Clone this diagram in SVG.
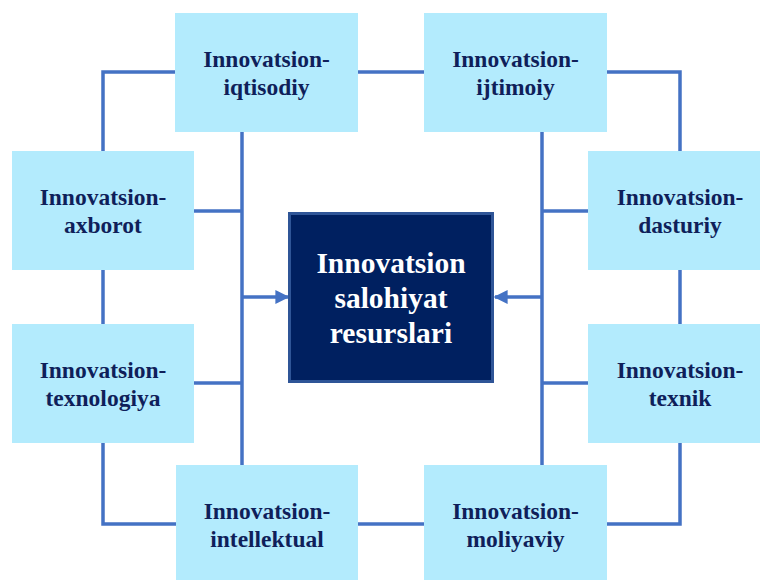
<svg xmlns="http://www.w3.org/2000/svg" width="760" height="580" viewBox="0 0 760 580">
<style>
.box{fill:#B3EBFD;}
.lbl{font-family:"Liberation Serif","Times New Roman",serif;font-weight:bold;font-size:23.5px;fill:#0F1F5A;text-anchor:middle;}
.ctr{font-family:"Liberation Serif","Times New Roman",serif;font-weight:bold;font-size:29.5px;fill:#FFFFFF;text-anchor:middle;}
.ln{fill:none;stroke:#4472C4;stroke-width:3.5;}
</style>
<defs>
<marker id="ah" viewBox="0 0 10 10" refX="9" refY="5" markerWidth="4" markerHeight="4" orient="auto" markerUnits="strokeWidth">
<path d="M0,0 L10,5 L0,10 z" fill="#4472C4"/>
</marker>
</defs>
<rect width="760" height="580" fill="#FFFFFF"/>
<g id="connectors">
<polyline class="ln" points="103,151 103,72 175,72"/>
<line class="ln" x1="358" y1="72" x2="424" y2="72"/>
<polyline class="ln" points="607,72 680,72 680,151"/>
<line class="ln" x1="103" y1="270" x2="103" y2="324"/>
<line class="ln" x1="680" y1="270" x2="680" y2="324"/>
<polyline class="ln" points="103,443 103,524 176,524"/>
<line class="ln" x1="358" y1="524" x2="424" y2="524"/>
<polyline class="ln" points="607,524 680,524 680,443"/>
<line class="ln" x1="242" y1="132" x2="242" y2="465"/>
<line class="ln" x1="542" y1="132" x2="542" y2="465"/>
<line class="ln" x1="194" y1="211" x2="242" y2="211"/>
<line class="ln" x1="194" y1="383" x2="242" y2="383"/>
<line class="ln" x1="542" y1="211" x2="588" y2="211"/>
<line class="ln" x1="542" y1="383" x2="588" y2="383"/>
<line class="ln" x1="242" y1="297" x2="288" y2="297" marker-end="url(#ah)"/>
<line class="ln" x1="542" y1="297" x2="495" y2="297" marker-end="url(#ah)"/>
</g>
<g id="center">
<rect x="289.5" y="213.5" width="203" height="168" fill="#002060" stroke="#2F5597" stroke-width="3"/>
<text class="ctr" x="391" y="273">Innovatsion</text>
<text class="ctr" x="391" y="308">salohiyat</text>
<text class="ctr" x="391" y="343">resurslari</text>
</g>
<g id="iqtisodiy">
<rect class="box" x="175" y="13" width="183" height="119"/>
<text class="lbl" x="266.5" y="67">Innovatsion-</text>
<text class="lbl" x="266.5" y="95">iqtisodiy</text>
</g>
<g id="ijtimoiy">
<rect class="box" x="424" y="13" width="183" height="119"/>
<text class="lbl" x="515.5" y="67">Innovatsion-</text>
<text class="lbl" x="515.5" y="95">ijtimoiy</text>
</g>
<g id="axborot">
<rect class="box" x="12" y="151" width="182" height="119"/>
<text class="lbl" x="103" y="205">Innovatsion-</text>
<text class="lbl" x="103" y="233">axborot</text>
</g>
<g id="dasturiy">
<rect class="box" x="588" y="151" width="184" height="119"/>
<text class="lbl" x="680" y="205">Innovatsion-</text>
<text class="lbl" x="680" y="233">dasturiy</text>
</g>
<g id="texnologiya">
<rect class="box" x="12" y="324" width="182" height="119"/>
<text class="lbl" x="103" y="378">Innovatsion-</text>
<text class="lbl" x="103" y="406">texnologiya</text>
</g>
<g id="texnik">
<rect class="box" x="588" y="324" width="184" height="119"/>
<text class="lbl" x="680" y="378">Innovatsion-</text>
<text class="lbl" x="680" y="406">texnik</text>
</g>
<g id="intellektual">
<rect class="box" x="176" y="465" width="182" height="119"/>
<text class="lbl" x="267" y="519">Innovatsion-</text>
<text class="lbl" x="267" y="547">intellektual</text>
</g>
<g id="moliyaviy">
<rect class="box" x="424" y="465" width="183" height="119"/>
<text class="lbl" x="515.5" y="519">Innovatsion-</text>
<text class="lbl" x="515.5" y="547">moliyaviy</text>
</g>
</svg>
